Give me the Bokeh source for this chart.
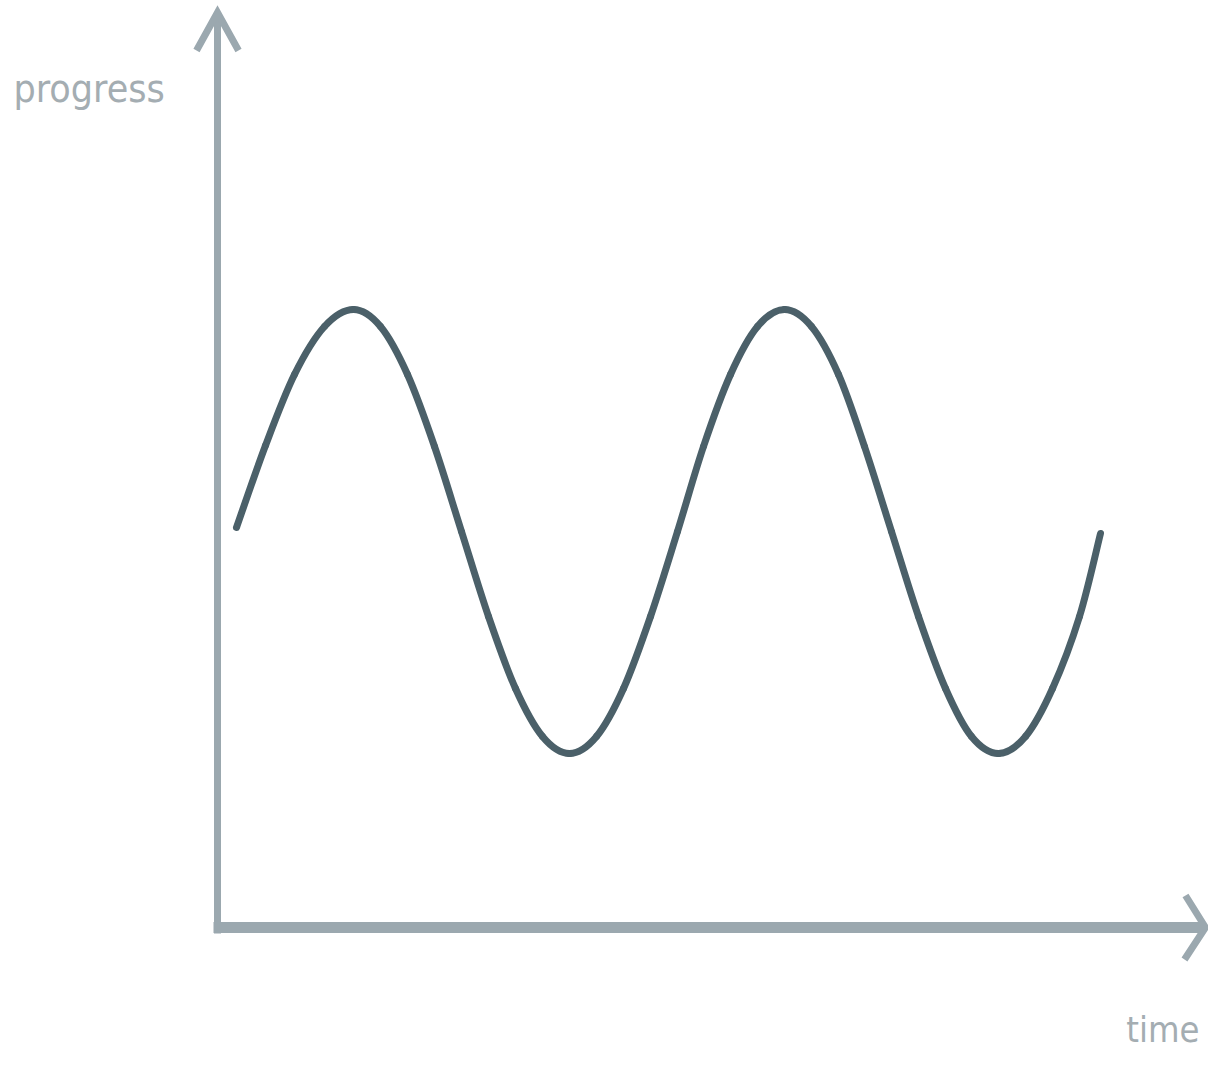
from bokeh.plotting import figure
from bokeh.models import Range1d
from bokeh.core.properties import value
from bokeh.embed import file_html
from bokeh.resources import INLINE

# ---- data ----
time_vals = [
    0.19, 0.48, 0.77, 1.07,
    1.36, 1.63, 1.90, 2.17, 2.44, 2.71, 2.98, 3.25,
    3.52, 3.79, 4.06, 4.33, 4.60, 4.86, 5.13, 5.40,
    5.67, 5.94, 6.21, 6.47, 6.74, 7.01, 7.28, 7.54,
    7.81, 8.08, 8.35, 8.62, 8.83,
]
progress_vals = [
    4.00, 4.82, 5.53, 6.01,
    6.18, 6.01, 5.53, 4.81, 3.96, 3.11, 2.39, 1.91,
    1.74, 1.91, 2.39, 3.11, 3.96, 4.81, 5.53, 6.01,
    6.18, 6.01, 5.53, 4.81, 3.96, 3.11, 2.39, 1.91,
    1.74, 1.91, 2.39, 3.11, 3.94,
]
x_label = "time"
y_label = "progress"

# axis extents (data units)
x_axis_end = 9.88
y_axis_end = 9.15

AXIS_COLOR = "#9ba8af"
CURVE_COLOR = "#4b6069"
TEXT_COLOR = "#a4adb2"
FONT = value("Liberation Sans Narrow, DejaVu Sans Condensed, Open Sans")

p = figure(width=1208, height=1057, output_backend="svg", toolbar_location=None,
           x_range=Range1d(-2.17, 9.91), y_range=Range1d(-1.30, 9.27),
           min_border=0, min_border_left=0, min_border_right=0,
           min_border_top=0, min_border_bottom=0)
p.axis.visible = False
p.grid.visible = False
p.outline_line_color = None
p.background_fill_color = "white"
p.border_fill_color = "white"

# axes
p.line([0, 0], [-0.06, y_axis_end - 0.02], line_color=AXIS_COLOR, line_width=7, line_cap="butt")
p.line([-0.04, x_axis_end - 0.02], [0, 0], line_color=AXIS_COLOR, line_width=11, line_cap="butt")
# arrow heads
p.line([-0.21, 0, 0.21], [y_axis_end - 0.38, y_axis_end, y_axis_end - 0.38],
       line_color=AXIS_COLOR, line_width=7, line_join="miter", line_cap="butt")
p.line([x_axis_end - 0.20, x_axis_end, x_axis_end - 0.21], [0.32, 0, -0.32],
       line_color=AXIS_COLOR, line_width=7, line_join="miter", line_cap="butt")

# curve: smooth (Catmull-Rom) Bezier segments passing through the read points
n = len(time_vals)
x0, y0, x1, y1, cx0, cy0, cx1, cy1 = [], [], [], [], [], [], [], []
for i in range(n - 1):
    ip = max(i - 1, 0)
    inx = min(i + 2, n - 1)
    x0.append(time_vals[i]); y0.append(progress_vals[i])
    x1.append(time_vals[i + 1]); y1.append(progress_vals[i + 1])
    cx0.append(time_vals[i] + (time_vals[i + 1] - time_vals[ip]) / 6)
    cy0.append(progress_vals[i] + (progress_vals[i + 1] - progress_vals[ip]) / 6)
    cx1.append(time_vals[i + 1] - (time_vals[inx] - time_vals[i]) / 6)
    cy1.append(progress_vals[i + 1] - (progress_vals[inx] - progress_vals[i]) / 6)
p.bezier(x0=x0, y0=y0, x1=x1, y1=y1, cx0=cx0, cy0=cy0, cx1=cx1, cy1=cy1,
         line_color=CURVE_COLOR, line_width=7, line_cap="round")

# labels
p.text(x=[-2.04], y=[8.39], text=[y_label], text_font=FONT, text_font_size="39px",
       text_color=TEXT_COLOR, text_align="left", text_baseline="alphabetic")
p.text(x=[9.82], y=[-1.02], text=[x_label], text_font=FONT, text_font_size="36px",
       text_color=TEXT_COLOR, text_align="right", text_baseline="alphabetic")

open("out.html", "w").write(file_html(p, INLINE))
